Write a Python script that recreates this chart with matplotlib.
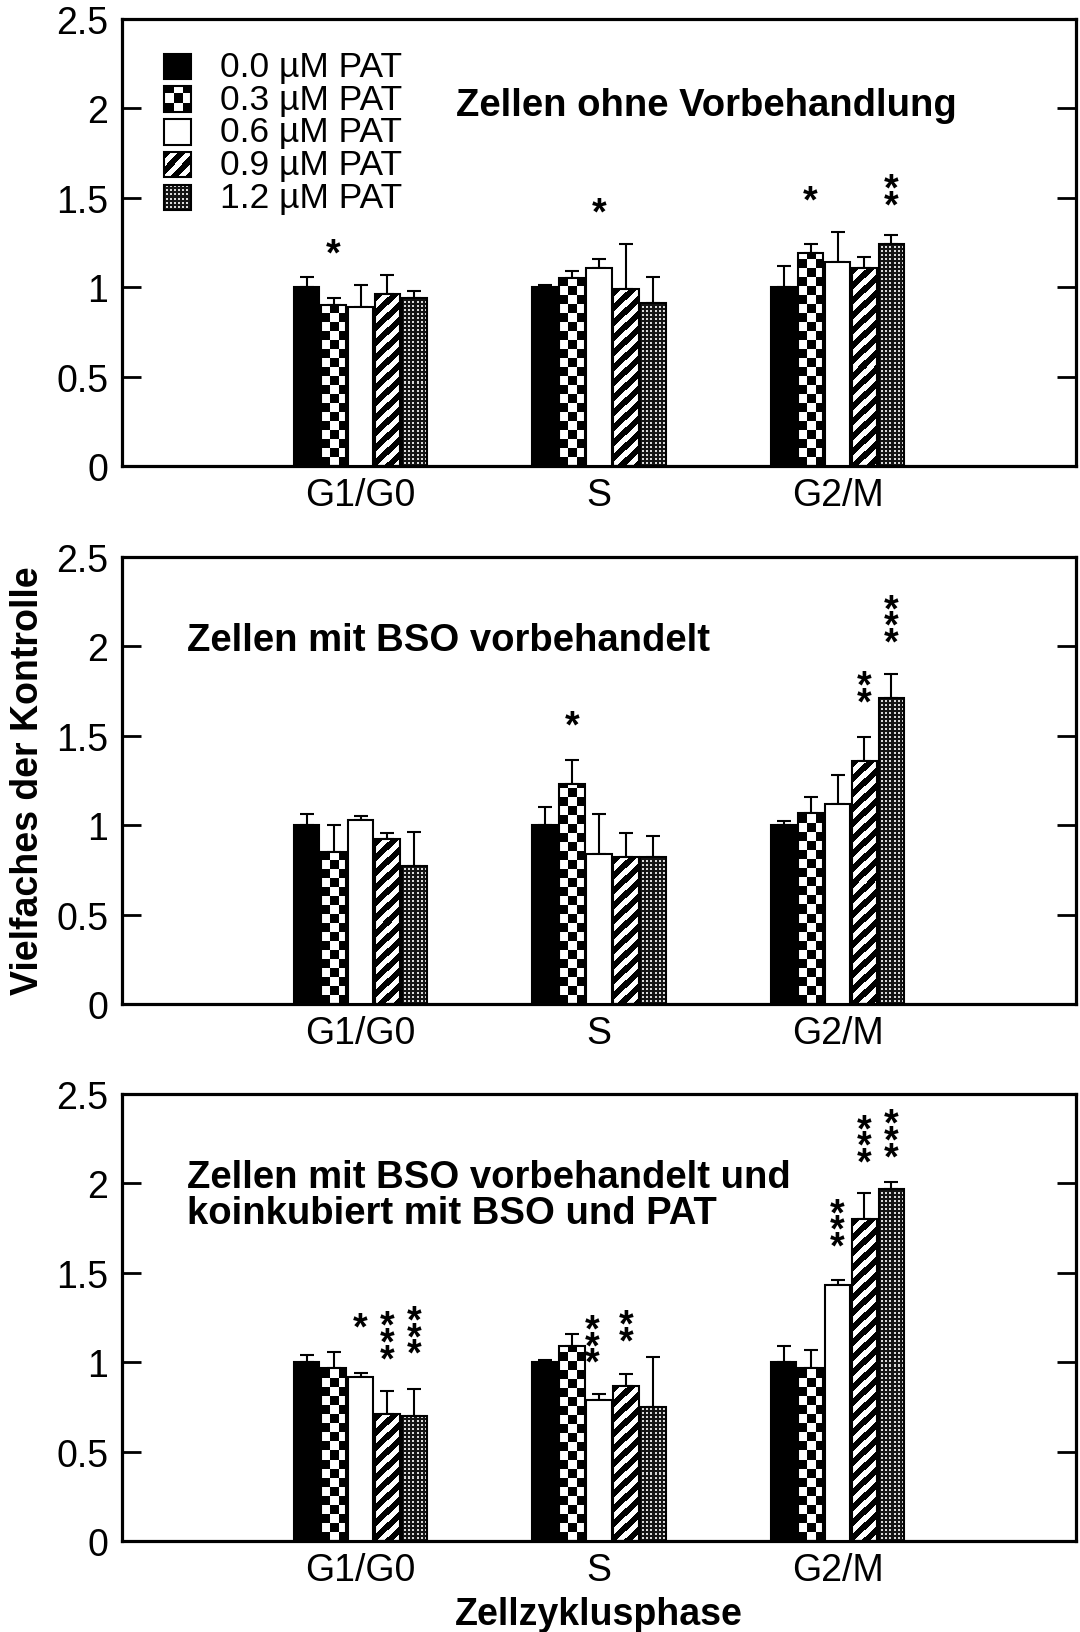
import matplotlib
matplotlib.use('Agg')
import matplotlib.pyplot as plt
from matplotlib.patches import Rectangle
import numpy as np

plt.rcParams['font.family'] = ['Liberation Sans', 'DejaVu Sans']

groups = ['G1/G0', 'S', 'G2/M']
doses = ['0.0 µM PAT', '0.3 µM PAT', '0.6 µM PAT', '0.9 µM PAT', '1.2 µM PAT']
fills = ['black', 'checker', 'white', 'stripes', 'dots']

titles = ['Zellen ohne Vorbehandlung',
          'Zellen mit BSO vorbehandelt',
          'Zellen mit BSO vorbehandelt und\nkoinkubiert mit BSO und PAT']

# mean (fold of control) per group x dose
mean_ohne = [[1.00, 0.90, 0.89, 0.96, 0.94],
             [1.00, 1.05, 1.11, 0.99, 0.91],
             [1.00, 1.19, 1.14, 1.11, 1.24]]
err_ohne = [[0.06, 0.04, 0.12, 0.11, 0.04],
            [0.01, 0.04, 0.05, 0.25, 0.15],
            [0.12, 0.05, 0.17, 0.06, 0.05]]

mean_bso = [[1.00, 0.85, 1.03, 0.92, 0.77],
            [1.00, 1.23, 0.84, 0.82, 0.82],
            [1.00, 1.07, 1.12, 1.36, 1.71]]
err_bso = [[0.06, 0.15, 0.02, 0.035, 0.19],
           [0.10, 0.135, 0.22, 0.135, 0.12],
           [0.025, 0.09, 0.16, 0.135, 0.135]]

mean_ko = [[1.00, 0.97, 0.92, 0.71, 0.70],
           [1.00, 1.09, 0.79, 0.87, 0.75],
           [1.00, 0.97, 1.43, 1.80, 1.97]]
err_ko = [[0.04, 0.09, 0.02, 0.13, 0.15],
          [0.01, 0.07, 0.03, 0.065, 0.28],
          [0.09, 0.10, 0.03, 0.145, 0.04]]

# significance marks: (group, dose, number of stars, y of lowest star)
sig_ohne = [(0, 1, 1, 1.25), (1, 2, 1, 1.48), (2, 1, 1, 1.55), (2, 4, 2, 1.52)]
sig_bso = [(1, 1, 1, 1.62), (2, 3, 2, 1.75), (2, 4, 3, 2.085)]
sig_ko = [(0, 2, 1, 1.26), (0, 3, 3, 1.08), (0, 4, 3, 1.11),
          (1, 2, 3, 1.06), (1, 3, 2, 1.18),
          (2, 2, 3, 1.71), (2, 3, 3, 2.18), (2, 4, 3, 2.21)]

panels = [(mean_ohne, err_ohne, sig_ohne),
          (mean_bso, err_bso, sig_bso),
          (mean_ko, err_ko, sig_ko)]

slot = 0.113
width = 0.106


def pattern(kind, w, h):
    jj, ii = np.meshgrid(np.arange(w), np.arange(h))
    ib = (h - 1) - ii  # rows counted from the bottom
    if kind == 'checker':
        cw = max(w / 3.0, 1)
        return (((jj // cw).astype(int) + ib // 9) % 2).astype(float)
    if kind == 'stripes':
        return (((jj + ii) % 15) >= 7.5).astype(float)
    if kind == 'dots':
        light = ((jj % 4) >= 2) & ((ib % 4) >= 2)
        return np.where(light, 0.85, 0.08)
    return np.ones((h, w))


def fill_rect(ax, x0, y0, x1, y1, kind, transform):
    if kind in ('black', 'white'):
        return
    (px0, py0), (px1, py1) = transform.transform([(x0, y0), (x1, y1)])
    w = max(int(round(px1 - px0)), 1)
    h = max(int(round(py1 - py0)), 1)
    ax.imshow(pattern(kind, w, h), extent=(x0, x1, y0, y1), transform=transform,
              cmap='gray', vmin=0, vmax=1, interpolation='nearest',
              aspect='auto', zorder=2)


fig = plt.figure(figsize=(10.8, 16.33), dpi=100)
bottoms = [0.714, 0.3846, 0.0557]

for p, (means, errs, sigs) in enumerate(panels):
    ax = fig.add_axes([0.113, bottoms[p], 0.8833, 0.2737])
    ax.set_xlim(0, 4)
    ax.set_ylim(0, 2.5)
    ax.set_autoscale_on(False)

    means = np.array(means)
    errs = np.array(errs)
    centers = np.arange(1, len(groups) + 1)
    for d in range(len(doses)):
        xs = centers + (d - 2) * slot
        face = 'black' if fills[d] == 'black' else ('white' if fills[d] == 'white' else 'none')
        ax.bar(xs, means[:, d], width=width, color=face, edgecolor='black',
               linewidth=1.5, zorder=3)
        for x, m in zip(xs, means[:, d]):
            fill_rect(ax, x - width / 2, 0, x + width / 2, m, fills[d], ax.transData)
        ax.errorbar(xs, means[:, d], yerr=[np.zeros(len(xs)), errs[:, d]], fmt='none',
                    ecolor='black', elinewidth=1.5, capsize=5, capthick=1.5, zorder=1)

    # stacked stars, one text per bar
    for g, d, n, y in sigs:
        x = centers[g] + (d - 2) * slot
        if p == 2 and g == 1 and d == 2:
            x -= 0.03
        ax.annotate('\n'.join(['*'] * n), (x, y), xytext=(0, -16), textcoords='offset points',
                    ha='center', va='baseline', fontsize=27, fontweight='bold',
                    linespacing=0.31)

    ax.set_xticks(centers)
    ax.set_xticklabels(groups)
    ax.set_yticks([0, 0.5, 1, 1.5, 2, 2.5])
    ax.set_yticklabels(['0', '0.5', '1', '1.5', '2', '2.5'])
    ax.tick_params(axis='y', direction='in', length=14, width=2, labelsize=27,
                   pad=10, right=True)
    ax.tick_params(axis='x', length=0, labelsize=27, pad=8)
    for s in ax.spines.values():
        s.set_linewidth(2.3)

    if p == 0:
        ax.text(0.35, 0.808, titles[p], transform=ax.transAxes, fontsize=27.5,
                fontweight='bold', va='center', ha='left')
    elif p == 1:
        ax.text(0.068, 0.815, titles[p], transform=ax.transAxes, fontsize=27.5,
                fontweight='bold', va='center', ha='left')
    else:
        ax.text(0.068, 0.775, titles[p], transform=ax.transAxes, fontsize=27.5,
                fontweight='bold', va='center', ha='left', linespacing=1.0)

    if p == 0:
        # legend drawn by hand so the fill patterns show in the keys
        for d, label in enumerate(doses):
            yc = 0.895 - d * 0.0738
            x0, x1 = 0.0435, 0.0728
            y0, y1 = yc - 0.028, yc + 0.028
            face = 'black' if fills[d] == 'black' else ('white' if fills[d] == 'white' else 'none')
            ax.add_patch(Rectangle((x0, y0), x1 - x0, y1 - y0, transform=ax.transAxes,
                                   facecolor=face, edgecolor='black', linewidth=1.5,
                                   zorder=3))
            fill_rect(ax, x0, y0, x1, y1, fills[d], ax.transAxes)
            ax.text(0.1027, yc, label, transform=ax.transAxes, fontsize=25.5,
                    va='center', ha='left')
    if p == 2:
        ax.set_xlabel('Zellzyklusphase', fontsize=27, fontweight='bold', labelpad=6)

fig.text(0.026, 0.522, 'Vielfaches der Kontrolle', rotation=90, fontsize=27,
         fontweight='bold', ha='center', va='center')

fig.savefig('out.png', dpi=100)
